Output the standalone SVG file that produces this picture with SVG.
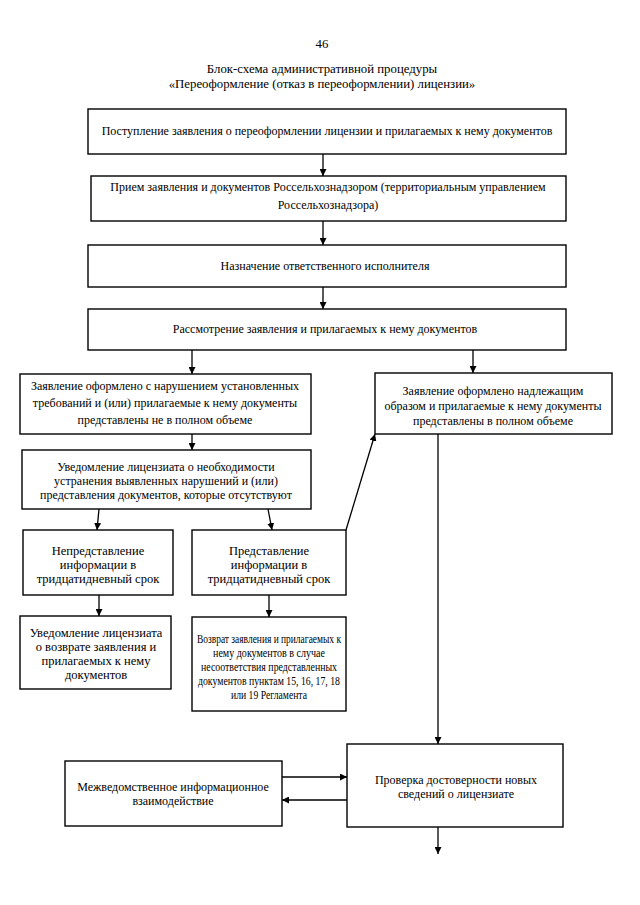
<svg xmlns="http://www.w3.org/2000/svg" width="640" height="905" viewBox="0 0 640 905">
<defs>
<marker id="ah" viewBox="0 0 10 10" refX="10" refY="5" markerWidth="7" markerHeight="7" markerUnits="userSpaceOnUse" orient="auto">
<path d="M0,0 L10,5 L0,10 z" fill="#000"/>
</marker>
<style>
rect{fill:#fff;stroke:#000;stroke-width:1.4}
text{font-family:"Liberation Serif","Times New Roman",serif;font-size:12px;fill:#000;text-anchor:middle}
.t{font-size:12.8px}
.b{font-size:12.5px}
.s{font-size:12.8px}
#connectors line,#connectors path{stroke:#000;stroke-width:1.3;fill:none}
.a{marker-end:url(#ah)}
</style>
</defs>
<rect x="0" y="0" width="640" height="905" style="fill:#fff;stroke:none"/>
<g id="title">
<text class="t" x="322" y="48">46</text>
<text class="t" x="322" y="73">Блок-схема административной процедуры</text>
<text class="t" x="322" y="88">«Переоформление (отказ в переоформлении) лицензии»</text>
</g>
<g id="n1"><rect x="88" y="109" width="478" height="45"/>
<text x="327" y="135">Поступление заявления о переоформлении лицензии и прилагаемых к нему документов</text></g>
<g id="n2"><rect x="91" y="176" width="475" height="45"/>
<text x="328" y="191">Прием заявления и документов Россельхознадзором (территориальным управлением</text>
<text x="328" y="209">Россельхознадзора)</text></g>
<g id="n3"><rect x="88" y="245" width="478" height="42"/>
<text x="325" y="270">Назначение ответственного исполнителя</text></g>
<g id="n4"><rect x="88" y="309" width="478" height="41"/>
<text x="325" y="333">Рассмотрение заявления и прилагаемых к нему документов</text></g>
<g id="n5"><rect x="20" y="374" width="291" height="60"/>
<text x="165" y="390">Заявление оформлено с нарушением установленных</text>
<text x="165" y="407">требований и (или) прилагаемые к нему документы</text>
<text x="165" y="424">представлены не в полном объеме</text></g>
<g id="n6"><rect x="375" y="373" width="237" height="61"/>
<text x="493" y="395">Заявление оформлено надлежащим</text>
<text x="493" y="410">образом и прилагаемые к нему документы</text>
<text x="493" y="425">представлены в полном объеме</text></g>
<g id="n7"><rect x="22" y="450" width="289" height="59"/>
<text x="166" y="471">Уведомление лицензиата о необходимости</text>
<text x="166" y="485">устранения выявленных нарушений и (или)</text>
<text x="166" y="499">представления документов, которые отсутствуют</text></g>
<g id="n8"><rect x="23" y="530" width="150" height="65"/>
<text class="b" x="98" y="555">Непредставление</text>
<text class="b" x="98" y="569">информации в</text>
<text class="b" x="98" y="583">тридцатидневный срок</text></g>
<g id="n9"><rect x="192" y="530" width="154" height="65"/>
<text class="b" x="269" y="555">Представление</text>
<text class="b" x="269" y="569">информации в</text>
<text class="b" x="269" y="583">тридцатидневный срок</text></g>
<g id="n10"><rect x="20" y="616" width="151" height="73"/>
<text class="b" x="96" y="637">Уведомление лицензиата</text>
<text class="b" x="96" y="651">о возврате заявления и</text>
<text class="b" x="96" y="665">прилагаемых к нему</text>
<text class="b" x="96" y="679">документов</text></g>
<g id="n11"><rect x="192" y="617" width="154" height="94"/>
<text class="s" x="269" y="643" textLength="144" lengthAdjust="spacingAndGlyphs">Возврат заявления и прилагаемых к</text>
<text class="s" x="269" y="657" textLength="112" lengthAdjust="spacingAndGlyphs">нему документов в случае</text>
<text class="s" x="269" y="671" textLength="136" lengthAdjust="spacingAndGlyphs">несоответствия представленных</text>
<text class="s" x="269" y="685" textLength="142" lengthAdjust="spacingAndGlyphs">документов пунктам 15, 16, 17, 18</text>
<text class="s" x="269" y="699" textLength="76" lengthAdjust="spacingAndGlyphs">или 19 Регламента</text></g>
<g id="n12"><rect x="347" y="744" width="216" height="83"/>
<text x="456" y="784">Проверка достоверности новых</text>
<text x="456" y="798">сведений о лицензиате</text></g>
<g id="n13"><rect x="65" y="761" width="217" height="65"/>
<text x="173" y="791">Межведомственное информационное</text>
<text x="173" y="805">взаимодействие</text></g>
<g id="connectors">
<line class="a" x1="323" y1="154" x2="323" y2="176"/>
<line class="a" x1="323" y1="221" x2="323" y2="245"/>
<line class="a" x1="323" y1="287" x2="323" y2="309"/>
<line class="a" x1="192" y1="350" x2="192" y2="374"/>
<line class="a" x1="473" y1="350" x2="473" y2="373"/>
<line class="a" x1="192" y1="434" x2="192" y2="450"/>
<line class="a" x1="99" y1="509" x2="97" y2="530"/>
<line class="a" x1="268" y1="509" x2="272" y2="530"/>
<line class="a" x1="346" y1="530" x2="375" y2="434"/>
<line class="a" x1="99" y1="595" x2="99" y2="616"/>
<line class="a" x1="269" y1="595" x2="269" y2="617"/>
<line class="a" x1="438" y1="434" x2="438" y2="744"/>
<line class="a" x1="282" y1="777" x2="347" y2="777"/>
<line class="a" x1="347" y1="800" x2="282" y2="800"/>
<line class="a" x1="438" y1="827" x2="438" y2="854"/>
</g>
</svg>
